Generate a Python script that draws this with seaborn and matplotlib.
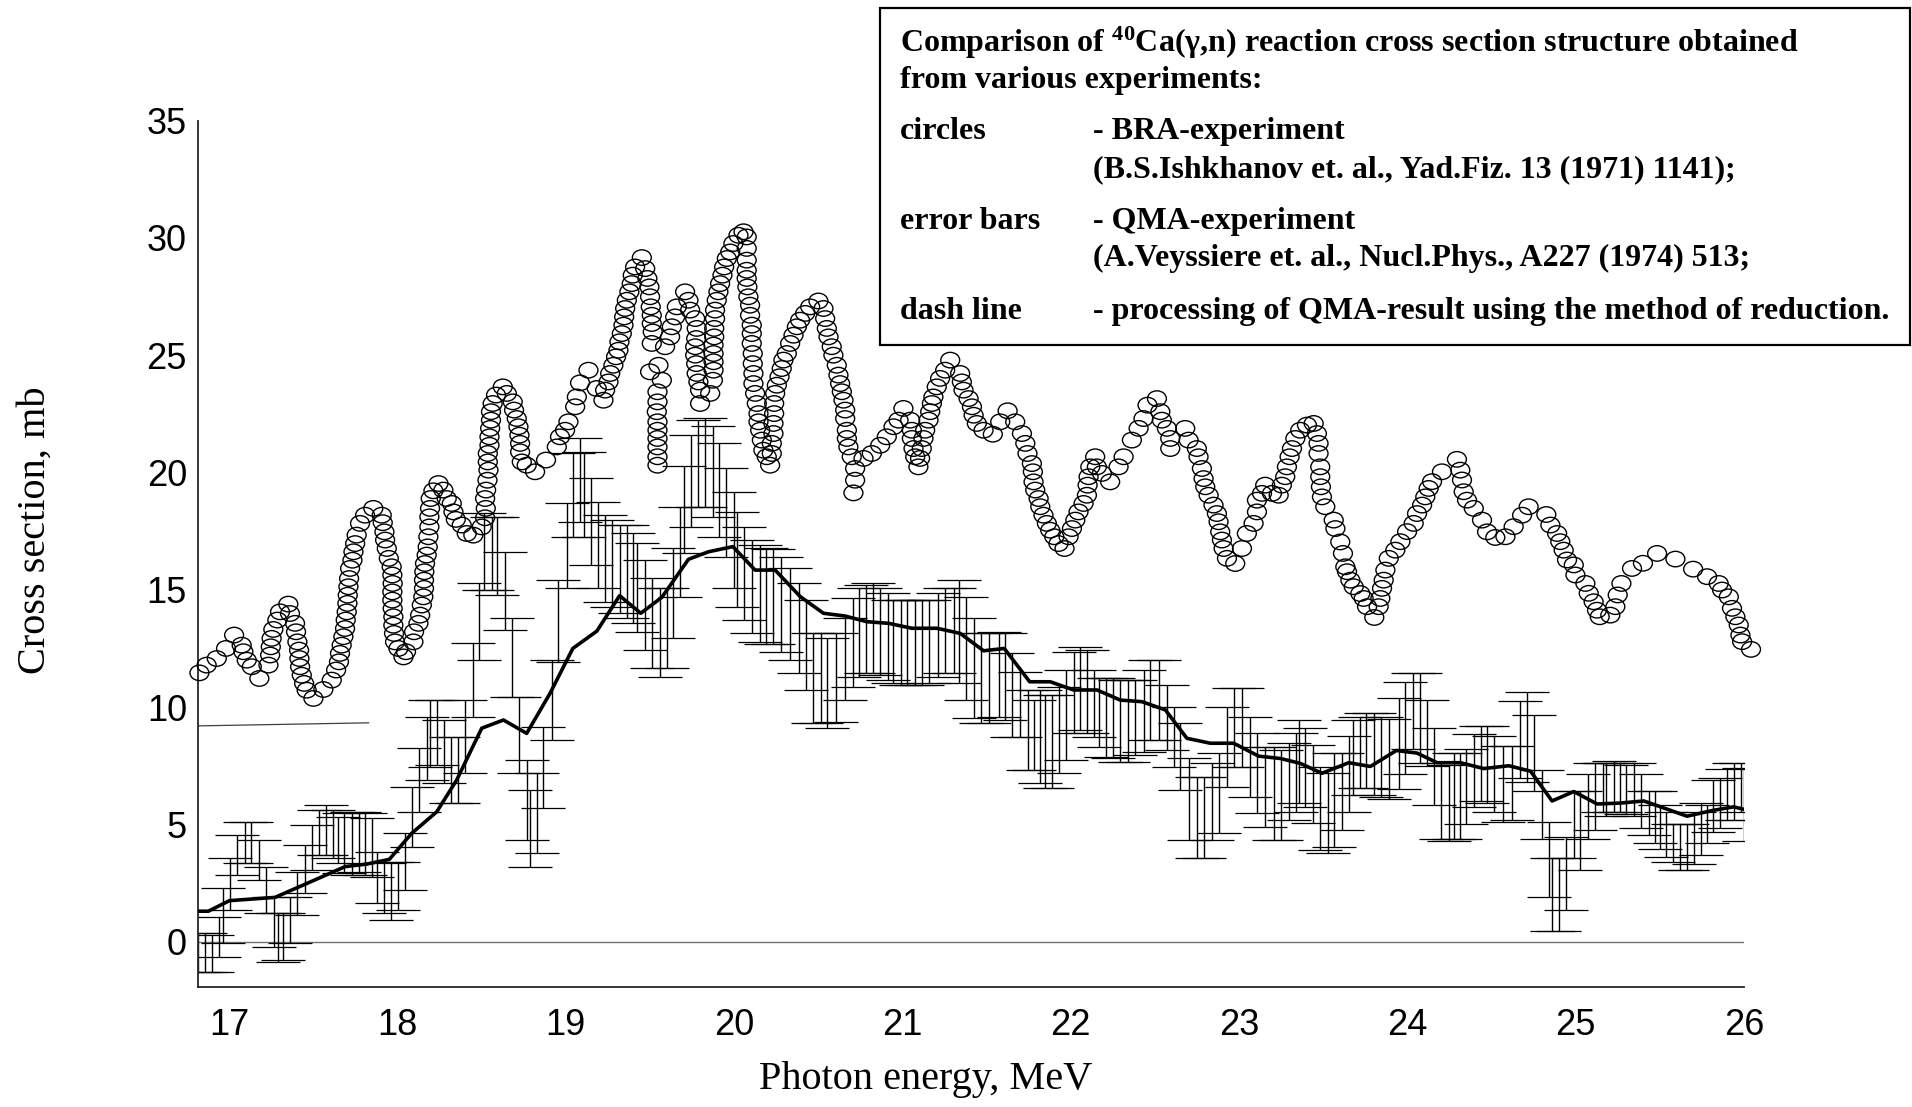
import numpy as np
import pandas as pd
import matplotlib
matplotlib.use("Agg")
import matplotlib.pyplot as plt
from matplotlib.path import Path
from matplotlib.patches import Rectangle
import seaborn as sns

# ---------------- data ----------------
# BRA-experiment (circles)
bra_x = [16.824, 16.867, 16.927, 16.982, 17.030, 17.075, 17.085, 17.105, 17.135, 17.180,
         17.234, 17.244, 17.248, 17.253, 17.263, 17.287, 17.303, 17.352, 17.362, 17.392,
         17.398, 17.406, 17.416, 17.418, 17.422, 17.432, 17.446, 17.461, 17.501, 17.560,
         17.610, 17.636, 17.653, 17.659, 17.669, 17.679, 17.689, 17.693, 17.699, 17.703,
         17.705, 17.709, 17.713, 17.719, 17.733, 17.739, 17.749, 17.758, 17.778, 17.808,
         17.857, 17.907, 17.913, 17.923, 17.927, 17.937, 17.949, 17.966, 17.970, 17.972,
         17.970, 17.970, 17.972, 17.976, 17.976, 17.980, 17.986, 18.006, 18.036, 18.051,
         18.095, 18.099, 18.125, 18.135, 18.145, 18.154, 18.158, 18.158, 18.160, 18.164,
         18.174, 18.180, 18.184, 18.190, 18.190, 18.194, 18.198, 18.214, 18.244, 18.273,
         18.293, 18.323, 18.333, 18.347, 18.382, 18.412, 18.451, 18.501, 18.521, 18.525,
         18.521, 18.527, 18.535, 18.541, 18.537, 18.537, 18.547, 18.547, 18.551, 18.556,
         18.556, 18.566, 18.586, 18.626, 18.650, 18.685, 18.693, 18.709, 18.719, 18.725,
         18.729, 18.729, 18.739, 18.768, 18.818, 18.883, 18.947, 18.966, 18.996, 19.016,
         19.056, 19.066, 19.085, 19.135, 19.184, 19.224, 19.234, 19.254, 19.264, 19.283,
         19.299, 19.313, 19.319, 19.333, 19.343, 19.347, 19.353, 19.363, 19.378, 19.392,
         19.398, 19.412, 19.452, 19.472, 19.485, 19.497, 19.501, 19.505, 19.511, 19.511,
         19.517, 19.511, 19.551, 19.501, 19.571, 19.545, 19.545, 19.541, 19.545, 19.545,
         19.545, 19.545, 19.545, 19.545, 19.590, 19.620, 19.630, 19.650, 19.660, 19.709,
         19.729, 19.739, 19.769, 19.778, 19.775, 19.769, 19.769, 19.775, 19.778, 19.788,
         19.798, 19.798, 19.858, 19.874, 19.878, 19.878, 19.878, 19.878, 19.882, 19.882,
         19.887, 19.887, 19.897, 19.907, 19.917, 19.931, 19.941, 19.957, 19.977, 19.996,
         20.026, 20.056, 20.075, 20.075, 20.075, 20.075, 20.075, 20.079, 20.085, 20.095,
         20.095, 20.105, 20.105, 20.105, 20.111, 20.111, 20.115, 20.115, 20.125, 20.135,
         20.145, 20.145, 20.155, 20.165, 20.174, 20.194, 20.214, 20.224, 20.224, 20.234,
         20.234, 20.238, 20.238, 20.244, 20.254, 20.270, 20.283, 20.293, 20.313, 20.333,
         20.353, 20.373, 20.392, 20.422, 20.452, 20.501, 20.531, 20.541, 20.551, 20.561,
         20.580, 20.590, 20.610, 20.620, 20.630, 20.640, 20.650, 20.660, 20.660, 20.670,
         20.670, 20.679, 20.699, 20.719, 20.719, 20.709, 20.769, 20.818, 20.868, 20.907,
         20.947, 20.977, 21.006, 21.046, 21.056, 21.056, 21.066, 21.076, 21.095, 21.105,
         21.115, 21.125, 21.135, 21.155, 21.165, 21.175, 21.184, 21.204, 21.224, 21.254,
         21.284, 21.343, 21.353, 21.363, 21.393, 21.413, 21.423, 21.442, 21.482, 21.537,
         21.581, 21.625, 21.670, 21.710, 21.730, 21.743, 21.769, 21.775, 21.779, 21.789,
         21.809, 21.819, 21.838, 21.858, 21.878, 21.902, 21.927, 21.963, 21.987, 22.007,
         22.027, 22.046, 22.076, 22.096, 22.100, 22.106, 22.116, 22.145, 22.155, 22.185,
         22.234, 22.284, 22.314, 22.363, 22.403, 22.432, 22.456, 22.512, 22.532, 22.541,
         22.571, 22.591, 22.591, 22.680, 22.700, 22.749, 22.759, 22.779, 22.789, 22.799,
         22.819, 22.848, 22.868, 22.878, 22.888, 22.898, 22.908, 22.928, 22.977, 23.017,
         23.046, 23.086, 23.106, 23.106, 23.136, 23.155, 23.195, 23.235, 23.254, 23.274,
         23.284, 23.300, 23.314, 23.334, 23.363, 23.403, 23.443, 23.462, 23.472, 23.472,
         23.482, 23.482, 23.486, 23.492, 23.512, 23.562, 23.572, 23.601, 23.617, 23.631,
         23.641, 23.661, 23.681, 23.720, 23.740, 23.760, 23.803, 23.829, 23.839, 23.849,
         23.859, 23.869, 23.889, 23.928, 23.958, 23.998, 24.037, 24.057, 24.087, 24.106,
         24.126, 24.146, 24.205, 24.294, 24.314, 24.324, 24.334, 24.354, 24.394, 24.443,
         24.473, 24.522, 24.582, 24.631, 24.681, 24.720, 24.825, 24.849, 24.889, 24.908,
         24.928, 24.948, 24.988, 24.998, 25.057, 25.077, 25.106, 25.126, 25.142, 25.205,
         25.235, 25.249, 25.271, 25.334, 25.399, 25.483, 25.592, 25.697, 25.780, 25.849,
         25.869, 25.909, 25.928, 25.948, 25.968, 25.978, 25.988, 26.041]
bra_y = [11.46, 11.79, 12.07, 12.50, 13.07, 12.64, 12.36, 12.00, 11.72, 11.22,
         11.79, 12.22, 12.57, 12.93, 13.31, 13.71, 14.06, 14.39, 13.99, 13.57,
         13.21, 12.78, 12.43, 12.07, 11.72, 11.36, 11.01, 10.72, 10.37, 10.75,
         11.15, 11.58, 11.93, 12.29, 12.64, 13.00, 13.35, 13.71, 14.06, 14.42,
         14.77, 15.13, 15.48, 15.91, 16.26, 16.62, 16.97, 17.33, 17.83, 18.18,
         18.47, 18.18, 17.86, 17.47, 17.12, 16.76, 16.34, 15.98, 15.63, 15.27,
         14.91, 14.56, 14.20, 13.85, 13.49, 13.14, 12.78, 12.50, 12.14, 12.36,
         12.78, 13.21, 13.57, 13.92, 14.35, 14.70, 15.06, 15.41, 15.77, 16.12,
         16.48, 16.83, 17.26, 17.68, 18.11, 18.47, 18.89, 19.22, 19.53, 19.25,
         18.89, 18.68, 18.32, 18.00, 17.76, 17.40, 17.33, 17.68, 18.07, 18.47,
         18.89, 19.25, 19.67, 20.10, 20.45, 20.81, 21.16, 21.52, 21.88, 22.23,
         22.59, 22.94, 23.30, 23.65, 23.37, 23.01, 22.66, 22.30, 21.95, 21.59,
         21.24, 20.88, 20.45, 20.31, 20.03, 20.53, 21.09, 21.52, 21.80, 22.16,
         22.80, 23.22, 23.82, 24.36, 23.58, 23.08, 23.51, 23.86, 24.22, 24.57,
         24.93, 25.21, 25.57, 25.92, 26.28, 26.63, 26.99, 27.34, 27.70, 28.05,
         28.41, 28.76, 29.16, 28.69, 28.27, 27.91, 27.49, 27.06, 26.70, 26.35,
         25.99, 25.50, 24.57, 24.29, 23.93, 23.44, 23.01, 22.59, 22.16, 21.80,
         21.45, 21.09, 20.67, 20.31, 25.36, 25.78, 26.21, 26.63, 27.06, 27.70,
         27.34, 26.92, 26.56, 26.14, 25.71, 25.36, 25.00, 24.64, 24.22, 23.86,
         23.51, 22.94, 23.37, 23.93, 24.36, 24.72, 25.07, 25.43, 25.78, 26.14,
         26.56, 26.92, 27.34, 27.70, 28.05, 28.41, 28.76, 29.12, 29.40, 29.76,
         30.11, 30.26, 30.04, 29.55, 29.05, 28.62, 28.27, 27.91, 27.49, 27.13,
         26.70, 26.28, 25.92, 25.50, 25.07, 24.64, 24.22, 23.79, 23.37, 22.94,
         22.51, 22.16, 21.80, 21.38, 20.95, 20.67, 20.31, 20.81, 21.24, 21.66,
         22.09, 22.51, 22.94, 23.37, 23.72, 24.08, 24.43, 24.79, 25.07, 25.50,
         25.85, 26.21, 26.49, 26.78, 27.06, 27.31, 26.99, 26.56, 26.14, 25.78,
         25.36, 25.00, 24.57, 24.15, 23.79, 23.44, 23.08, 22.66, 22.30, 21.80,
         21.45, 21.09, 20.67, 20.17, 19.67, 19.13, 20.60, 20.81, 21.16, 21.52,
         21.95, 22.23, 22.73, 22.23, 21.80, 21.45, 21.02, 20.67, 20.24, 20.60,
         21.02, 21.45, 21.80, 22.23, 22.59, 22.94, 23.22, 23.65, 24.01, 24.36,
         24.79, 24.22, 23.86, 23.51, 23.15, 22.80, 22.44, 22.09, 21.80, 21.63,
         22.16, 22.63, 22.16, 21.66, 21.24, 20.81, 20.38, 20.03, 19.60, 19.25,
         18.89, 18.54, 18.18, 17.83, 17.54, 17.26, 16.97, 16.76, 17.26, 17.61,
         17.97, 18.32, 18.68, 19.03, 19.46, 19.82, 20.24, 20.67, 20.24, 19.96,
         19.60, 20.24, 20.67, 21.38, 21.88, 22.30, 22.87, 23.15, 22.59, 22.23,
         21.88, 21.45, 21.02, 21.88, 21.38, 21.02, 20.67, 20.17, 19.74, 19.39,
         19.03, 18.61, 18.25, 17.90, 17.47, 17.12, 16.76, 16.34, 16.12, 16.76,
         17.40, 17.83, 18.32, 18.82, 19.11, 19.46, 19.11, 19.03, 19.46, 19.82,
         20.24, 20.67, 21.02, 21.45, 21.80, 22.02, 22.09, 21.66, 21.24, 20.81,
         20.24, 19.82, 19.39, 18.96, 18.54, 17.97, 17.61, 17.04, 16.55, 15.98,
         15.77, 15.41, 15.13, 14.84, 14.63, 14.28, 13.82, 14.28, 14.63, 15.06,
         15.41, 15.84, 16.34, 16.69, 17.05, 17.48, 17.83, 18.25, 18.61, 18.96,
         19.32, 19.61, 20.03, 20.56, 20.10, 19.68, 19.18, 18.82, 18.47, 17.97,
         17.47, 17.23, 17.26, 17.69, 18.18, 18.54, 18.21, 17.76, 17.40, 17.05,
         16.69, 16.27, 16.06, 15.63, 15.27, 14.85, 14.49, 14.13, 13.85, 13.92,
         14.28, 14.78, 15.27, 15.91, 16.13, 16.55, 16.31, 15.88, 15.56, 15.27,
         14.99, 14.70, 14.21, 13.85, 13.50, 13.07, 12.79, 12.46]

# QMA-experiment (error bars): energy, lower and upper end of each bar
qma_x = [16.818, 16.857, 16.897, 16.943, 16.962, 17.006, 17.050, 17.095, 17.131, 17.178,
         17.220, 17.267, 17.289, 17.323, 17.362, 17.406, 17.451, 17.495, 17.537, 17.574,
         17.616, 17.650, 17.685, 17.729, 17.772, 17.808, 17.851, 17.881, 17.921, 17.960,
         18.006, 18.046, 18.085, 18.131, 18.174, 18.194, 18.234, 18.279, 18.317, 18.362,
         18.402, 18.448, 18.487, 18.515, 18.560, 18.590, 18.640, 18.679, 18.725, 18.768,
         18.788, 18.828, 18.867, 18.917, 18.956, 19.006, 19.046, 19.086, 19.106, 19.149,
         19.189, 19.234, 19.274, 19.320, 19.363, 19.399, 19.426, 19.468, 19.512, 19.557,
         19.601, 19.640, 19.676, 19.704, 19.745, 19.785, 19.828, 19.872, 19.912, 19.953,
         19.997, 20.017, 20.060, 20.106, 20.151, 20.191, 20.234, 20.278, 20.333, 20.383,
         20.428, 20.468, 20.516, 20.551, 20.607, 20.660, 20.704, 20.745, 20.785, 20.828,
         20.868, 20.912, 20.947, 20.991, 21.030, 21.072, 21.116, 21.155, 21.214, 21.254,
         21.304, 21.334, 21.379, 21.423, 21.467, 21.512, 21.572, 21.611, 21.651, 21.696,
         21.744, 21.783, 21.819, 21.849, 21.888, 21.928, 21.974, 22.017, 22.053, 22.096,
         22.136, 22.166, 22.211, 22.251, 22.294, 22.338, 22.383, 22.433, 22.473, 22.522,
         22.572, 22.611, 22.651, 22.700, 22.750, 22.789, 22.839, 22.878, 22.928, 22.968,
         23.017, 23.067, 23.106, 23.156, 23.205, 23.249, 23.294, 23.340, 23.354, 23.394,
         23.439, 23.483, 23.526, 23.566, 23.612, 23.651, 23.675, 23.717, 23.756, 23.804,
         23.845, 23.889, 23.948, 23.988, 24.034, 24.073, 24.117, 24.160, 24.202, 24.245,
         24.275, 24.311, 24.350, 24.394, 24.437, 24.473, 24.517, 24.568, 24.622, 24.671,
         24.711, 24.754, 24.800, 24.839, 24.859, 24.899, 24.944, 24.988, 25.027, 25.071,
         25.117, 25.162, 25.182, 25.226, 25.265, 25.301, 25.344, 25.388, 25.434, 25.473,
         25.503, 25.533, 25.578, 25.622, 25.661, 25.705, 25.741, 25.780, 25.816, 25.859,
         25.899, 25.938, 25.982, 26.000]
qma_lo = [-1.28, -1.28, -1.28, -0.64, -0.07, 1.35, 2.84, 3.34, 3.34, 2.63,
          1.21, -0.21, -0.85, -0.78, -0.07, 1.14, 2.06, 3.06, 3.69, 3.69,
          3.55, 3.34, 2.91, 2.84, 2.98, 2.84, 2.77, 1.63, 1.21, 0.92,
          1.35, 2.20, 4.05, 5.54, 6.89, 7.46, 7.53, 6.75, 5.90, 5.90,
          7.18, 9.59, 12.01, 14.99, 14.99, 14.78, 13.29, 10.44, 7.18, 4.33,
          3.20, 3.77, 5.68, 8.60, 11.94, 15.06, 17.26, 17.90, 17.26, 16.06,
          15.06, 14.49, 14.28, 14.00, 13.78, 13.57, 13.21, 12.43, 11.65, 11.30,
          11.65, 12.93, 14.70, 16.55, 17.69, 18.54, 18.54, 18.12, 17.26, 16.41,
          15.06, 14.28, 13.71, 13.14, 12.79, 12.71, 12.71, 12.36, 12.01, 11.44,
          10.73, 9.31, 9.31, 9.10, 9.38, 10.30, 10.87, 11.30, 11.44, 11.44,
          11.37, 11.15, 11.01, 10.94, 10.94, 10.94, 10.94, 11.01, 11.30, 11.44,
          11.44, 11.01, 10.30, 9.52, 9.31, 9.31, 9.59, 9.45, 8.74, 8.74,
          7.32, 7.32, 6.75, 6.54, 6.54, 7.18, 7.74, 8.88, 9.02, 8.88,
          8.74, 8.31, 7.89, 7.82, 7.67, 7.67, 7.96, 8.10, 8.60, 8.60,
          8.17, 7.46, 6.47, 4.33, 3.55, 3.55, 4.33, 4.62, 6.61, 7.46,
          7.46, 6.18, 5.47, 4.90, 4.33, 4.33, 5.19, 5.54, 5.90, 5.75,
          5.04, 3.91, 3.77, 4.04, 4.77, 5.51, 6.24, 6.57, 6.57, 6.24,
          6.16, 6.08, 6.49, 7.14, 8.20, 7.63, 7.47, 5.84, 4.37, 4.28,
          4.37, 4.37, 5.02, 5.75, 5.99, 5.91, 5.51, 5.10, 5.18, 6.98,
          6.81, 6.41, 4.37, 1.92, 0.45, 0.45, 1.35, 3.55, 3.06, 4.37,
          4.77, 5.51, 5.35, 5.51, 5.51, 5.43, 5.35, 4.85, 4.53, 4.20,
          3.96, 3.63, 3.39, 3.06, 3.06, 3.30, 3.71, 4.20, 4.69, 4.85,
          5.18, 5.18, 5.51, 4.30]
qma_hi = [0.36, 0.36, 0.29, 1.07, 2.27, 3.55, 4.55, 5.12, 5.12, 4.34,
          3.20, 1.92, 1.21, 1.21, 1.92, 2.98, 4.12, 4.97, 5.61, 5.82,
          5.61, 5.33, 5.47, 5.54, 5.54, 5.47, 5.26, 3.84, 3.34, 3.41,
          3.41, 4.62, 6.61, 8.24, 9.59, 10.30, 10.30, 9.45, 8.74, 8.74,
          10.30, 12.72, 15.28, 18.26, 18.12, 18.12, 16.63, 13.78, 10.44, 7.74,
          6.47, 7.18, 9.17, 12.01, 15.42, 18.68, 20.82, 21.46, 20.89, 19.75,
          18.75, 18.19, 17.97, 17.76, 17.76, 17.43, 16.98, 16.27, 15.49, 15.06,
          15.06, 16.77, 18.54, 20.28, 21.60, 22.24, 22.31, 21.98, 21.24, 20.17,
          19.18, 18.33, 17.69, 17.12, 16.91, 16.77, 16.72, 16.41, 15.91, 15.27,
          14.56, 13.14, 13.14, 12.93, 13.14, 13.78, 14.63, 15.06, 15.20, 15.27,
          15.06, 14.85, 14.56, 14.56, 14.56, 14.56, 14.56, 14.56, 14.85, 15.06,
          15.06, 15.42, 14.70, 13.78, 13.14, 13.14, 13.21, 13.14, 12.29, 11.51,
          10.73, 10.30, 10.73, 10.51, 10.51, 10.87, 11.58, 12.36, 12.57, 12.43,
          11.58, 11.23, 11.23, 11.23, 11.15, 11.15, 11.15, 11.58, 12.01, 12.01,
          10.94, 10.02, 9.31, 7.82, 7.03, 7.03, 7.60, 8.03, 10.02, 10.80,
          10.80, 9.59, 8.88, 8.31, 8.31, 8.17, 8.46, 8.88, 9.45, 9.10,
          8.38, 7.46, 7.18, 8.04, 8.04, 8.77, 9.43, 9.59, 9.75, 9.75,
          9.59, 9.51, 10.40, 11.05, 11.46, 11.46, 10.32, 9.10, 7.63, 7.55,
          8.04, 8.04, 8.20, 8.85, 9.18, 9.18, 8.77, 8.36, 8.36, 10.24,
          10.64, 9.67, 7.30, 5.10, 3.55, 3.55, 4.45, 6.41, 6.41, 7.14,
          7.63, 7.63, 7.63, 7.71, 7.63, 7.55, 7.63, 7.14, 6.41, 6.41,
          5.83, 5.51, 5.02, 5.02, 5.02, 5.51, 5.91, 5.83, 6.89, 6.98,
          7.38, 7.63, 7.63, 7.40]

# processing of QMA result by the method of reduction (thick line)
red_x = [16.82, 16.877, 17.002, 17.273, 17.442, 17.689, 17.818, 17.952, 18.085, 18.234,
         18.352, 18.501, 18.630, 18.768, 18.907, 19.042, 19.185, 19.320, 19.446, 19.571,
         19.729, 19.848, 19.993, 20.125, 20.244, 20.393, 20.531, 20.660, 20.789, 20.918,
         21.056, 21.205, 21.344, 21.482, 21.605, 21.756, 21.878, 22.017, 22.156, 22.294,
         22.423, 22.562, 22.690, 22.829, 22.968, 23.116, 23.245, 23.364, 23.492, 23.651,
         23.780, 23.934, 24.057, 24.176, 24.315, 24.453, 24.602, 24.731, 24.859, 24.988,
         25.127, 25.265, 25.404, 25.661, 25.810, 25.938, 26.000]
red_y = [1.30, 1.30, 1.75, 1.89, 2.42, 3.20, 3.31, 3.51, 4.62, 5.54,
         6.89, 9.10, 9.45, 8.88, 10.59, 12.50, 13.24, 14.75, 14.00, 14.68,
         16.30, 16.62, 16.84, 15.84, 15.84, 14.71, 14.00, 13.88, 13.64, 13.57,
         13.36, 13.36, 13.14, 12.40, 12.50, 11.08, 11.08, 10.73, 10.73, 10.30,
         10.23, 9.88, 8.67, 8.46, 8.46, 7.91, 7.81, 7.60, 7.18, 7.63,
         7.47, 8.15, 8.04, 7.63, 7.63, 7.38, 7.50, 7.27, 6.00, 6.40,
         5.87, 5.91, 6.00, 5.35, 5.59, 5.75, 5.64]

# short thin reference line at the left
ref_x = [16.82, 17.83]
ref_y = [9.20, 9.33]

x_ticks = [17, 18, 19, 20, 21, 22, 23, 24, 25, 26]
y_ticks = [0, 5, 10, 15, 20, 25, 30, 35]
x_range = [16.816, 26.0]
y_range = [-1.93, 35.0]

legend_rows = [
    ("Comparison of $^{40}$Ca(\u03b3,n) reaction cross section structure obtained", None),
    ("from various experiments:", None),
    ("circles", "- BRA-experiment"),
    (None, "(B.S.Ishkhanov et. al., Yad.Fiz. 13 (1971) 1141);"),
    ("error bars", "- QMA-experiment"),
    (None, "(A.Veyssiere et. al., Nucl.Phys., A227 (1974) 513;"),
    ("dash line", "- processing of QMA-result using the method of reduction."),
]

# ---------------- styling ----------------
sns.set_theme(style="white")
plt.rcParams["font.family"] = ["Liberation Sans", "DejaVu Sans"]
plt.rcParams["mathtext.fontset"] = "custom"
plt.rcParams["mathtext.rm"] = "Liberation Serif:bold"
plt.rcParams["mathtext.it"] = "Liberation Serif:bold"
plt.rcParams["mathtext.bf"] = "Liberation Serif:bold"

fig = plt.figure(figsize=(19.12, 11.07), dpi=100)
fig.patch.set_facecolor("white")
ax = fig.add_axes([0.1036, 0.1084, 0.8086, 0.7827])
ax.set_facecolor("white")

# zero line and short reference line
ax.axhline(0, color="0.45", lw=1.0, zorder=1)
ax.plot(ref_x, ref_y, color="0.25", lw=0.9, zorder=1)

# error bars
qx = np.array(qma_x)
lo = np.array(qma_lo)
hi = np.array(qma_hi)
mid = (lo + hi) / 2.0
ax.errorbar(qx, mid, yerr=[mid - lo, hi - mid], fmt="none", ecolor="black",
            elinewidth=1.0, capsize=16, capthick=0.9, zorder=2)

# reduction line
sns.lineplot(x=red_x, y=red_y, sort=False, estimator=None, color="black",
             lw=2.6, ax=ax, zorder=3)

# circles (slightly flattened open ellipses)
uc = Path.unit_circle()
ell = Path(uc.vertices * np.array([1.0, 0.82]), uc.codes)
sns.scatterplot(x=bra_x, y=bra_y, marker=ell, s=185, ax=ax, legend=False, zorder=4)
coll = ax.collections[-1]
coll.set_facecolor("none")
coll.set_edgecolor("black")
coll.set_linewidth(1.0)
coll.set_clip_on(False)

ax.set_xlim(*x_range)
ax.set_ylim(*y_range)
ax.set_xticks(x_ticks)
ax.set_yticks(y_ticks)
ax.set_xticklabels([str(t) for t in x_ticks])
ax.set_yticklabels([str(t) for t in y_ticks])
ax.tick_params(axis="both", direction="in", colors="black", labelsize=26, width=1.0)
ax.tick_params(axis="x", length=8, pad=15)
ax.tick_params(axis="y", length=11, pad=8)

for s in ["top", "right"]:
    ax.spines[s].set_visible(False)
for s in ["left", "bottom"]:
    ax.spines[s].set_color("0.15")
    ax.spines[s].set_linewidth(1.3)

ax.set_xlabel("Photon energy, MeV", fontfamily="Liberation Serif", fontsize=29, color="black")
ax.xaxis.set_label_coords(0.4706, -0.107)
ax.xaxis.label.set_va("center")
ax.set_ylabel("Cross section, mb", fontfamily="Liberation Serif", fontsize=29, color="black")
ax.yaxis.set_label_coords(-0.1055, 0.5275)
ax.yaxis.label.set_va("center")

# legend box
box = Rectangle((0.4603, 0.6883), 0.5387, 0.3044, transform=fig.transFigure,
                facecolor="white", edgecolor="black", lw=1.6, zorder=10)
fig.patches.append(box)
row_y = [0.9612, 0.9277, 0.8808, 0.8464, 0.7995, 0.7669, 0.7190]
col_x = [0.4707, 0.5717]
for (c1, c2), yy in zip(legend_rows, row_y):
    if c1 is not None:
        fig.text(col_x[0], yy, c1, fontfamily="Liberation Serif", fontweight="bold",
                 fontsize=23, va="center", ha="left", color="black", zorder=11)
    if c2 is not None:
        fig.text(col_x[1], yy, c2, fontfamily="Liberation Serif", fontweight="bold",
                 fontsize=23, va="center", ha="left", color="black", zorder=11)

fig.savefig("out.png", dpi=100, facecolor="white")
